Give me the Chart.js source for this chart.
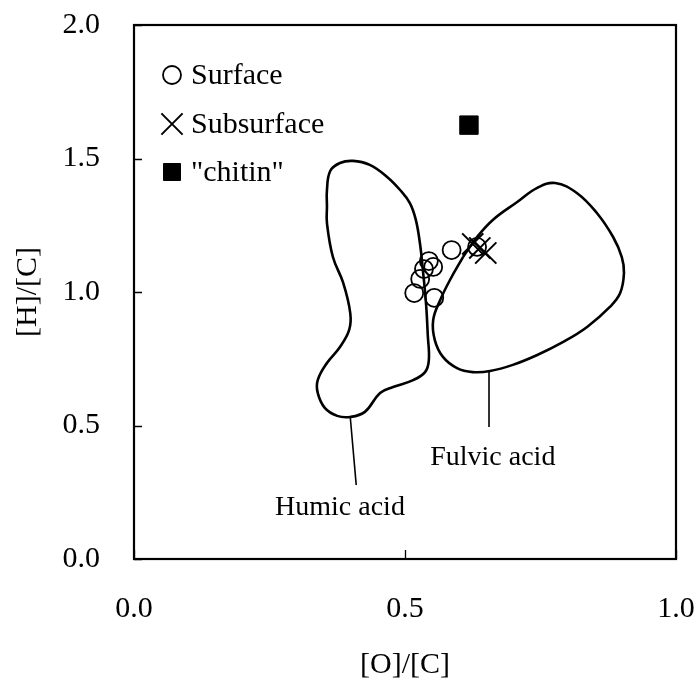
<!DOCTYPE html>
<html>
<head>
<meta charset="utf-8">
<script src="https://cdn.jsdelivr.net/npm/chart.js@4/dist/chart.umd.min.js"></script>
<style>
  html, body { margin: 0; padding: 0; background: #fff; }
  #wrap { width: 696px; height: 686px; }
</style>
</head>
<body>
<div id="wrap"><canvas id="c" width="696" height="686"></canvas></div>
<script>
// Atomic ratios of the samples
const surfaceOC = [0.586, 0.633, 0.544, 0.552, 0.535, 0.528, 0.517, 0.554];
const surfaceHC = [1.157, 1.169, 1.116, 1.094, 1.086, 1.049, 0.996, 0.978];
const subsurfaceOC = [0.625, 0.638, 0.649];
const subsurfaceHC = [1.180, 1.165, 1.146];
const chitinOC = [0.618];
const chitinHC = [1.625];

// Outline of the humic acid field (closed loop)
const humicOC = [0.356, 0.356, 0.362, 0.380, 0.404, 0.435, 0.467, 0.491, 0.509, 0.520, 0.528, 0.533,
  0.539, 0.542, 0.544, 0.537, 0.515, 0.478, 0.454, 0.426, 0.399, 0.375, 0.352, 0.339, 0.339,
  0.356, 0.380, 0.397, 0.399, 0.386, 0.367, 0.356, 0.356];
const humicHC = [1.320, 1.382, 1.453, 1.483, 1.491, 1.476, 1.431, 1.382, 1.333, 1.270, 1.176, 1.082,
  0.951, 0.839, 0.745, 0.700, 0.670, 0.644, 0.622, 0.551, 0.532, 0.536, 0.566, 0.622, 0.670,
  0.734, 0.794, 0.858, 0.921, 1.034, 1.131, 1.258, 1.320];

// Outline of the fulvic acid field (closed loop)
const fulvicOC = [0.607, 0.633, 0.662, 0.707, 0.744, 0.777, 0.817, 0.854, 0.884, 0.900, 0.904, 0.897,
  0.878, 0.836, 0.792, 0.744, 0.699, 0.657, 0.625, 0.596, 0.570, 0.555, 0.552, 0.565, 0.583, 0.607];
const fulvicHC = [1.131, 1.206, 1.270, 1.337, 1.390, 1.408, 1.371, 1.296, 1.206, 1.131, 1.071, 0.996,
  0.944, 0.869, 0.813, 0.764, 0.727, 0.704, 0.700, 0.715, 0.757, 0.820, 0.895, 0.970, 1.045, 1.131];

// Leader lines and their captions
const humicLeaderOC = [0.399, 0.410];
const humicLeaderHC = [0.532, 0.277];
const fulvicLeaderOC = [0.655, 0.655];
const fulvicLeaderHC = [0.700, 0.494];
const fieldNames = ['Humic acid', 'Fulvic acid'];
const fieldNameOC = [0.380, 0.662];
const fieldNameHC = [0.191, 0.378];

// Axis ticks
const xTicks = [0.0, 0.5, 1.0];
const yTicks = [0.0, 0.5, 1.0, 1.5, 2.0];
const seriesNames = ['Surface', 'Subsurface', '"chitin"'];

const FONT = 'Liberation Serif, Times New Roman, serif';
const FS = 30;
const FS_FIELD = 28;

const pts = (xs, ys) => xs.map((x, i) => ({ x: x, y: ys[i] }));

const outline = (xs, ys) => ({
  data: pts(xs, ys), showLine: true, tension: 0.4, pointRadius: 0,
  borderColor: '#000', borderWidth: 2.6, fill: false, order: 5
});
const leader = (xs, ys) => ({
  data: pts(xs, ys), showLine: true, tension: 0, pointRadius: 0,
  borderColor: '#000', borderWidth: 1.6, fill: false, order: 5
});

const surfaceStyle = { pointStyle: 'circle', pointRadius: 9, borderColor: '#000', backgroundColor: 'rgba(0,0,0,0)', borderWidth: 1.8 };
const subsurfaceStyle = { pointStyle: 'crossRot', pointRadius: 15, borderColor: '#000', backgroundColor: '#000', borderWidth: 2 };
const chitinStyle = { pointStyle: 'rect', pointRadius: 13, borderColor: '#000', backgroundColor: '#000', borderWidth: 1 };

const frameAndTicks = {
  id: 'frameAndTicks',
  afterDraw(chart) {
    const { ctx, chartArea: a, scales } = chart;
    ctx.save();
    ctx.strokeStyle = '#000';
    ctx.lineWidth = 1.3;
    ctx.beginPath();
    xTicks.forEach(v => {
      const px = Math.round(scales.x.getPixelForValue(v)) + 0.5;
      ctx.moveTo(px, a.bottom); ctx.lineTo(px, a.bottom - 9);
    });
    yTicks.forEach(v => {
      const py = Math.round(scales.y.getPixelForValue(v)) + 0.5;
      ctx.moveTo(a.left, py); ctx.lineTo(a.left + 8, py);
    });
    ctx.stroke();
    ctx.lineWidth = 2.2;
    ctx.strokeRect(a.left, a.top, a.right - a.left, a.bottom - a.top);
    ctx.restore();
  }
};

const fieldLabels = {
  id: 'fieldLabels',
  afterDatasetsDraw(chart) {
    const { ctx, scales } = chart;
    ctx.save();
    ctx.fillStyle = '#000';
    ctx.font = FS_FIELD + 'px ' + FONT;
    ctx.textAlign = 'center';
    ctx.textBaseline = 'middle';
    fieldNames.forEach((t, i) => {
      ctx.fillText(t, scales.x.getPixelForValue(fieldNameOC[i]), scales.y.getPixelForValue(fieldNameHC[i]));
    });
    ctx.restore();
  }
};

const insetLegend = {
  id: 'insetLegend',
  afterDraw(chart) {
    const { ctx, chartArea: a } = chart;
    const styles = [surfaceStyle, subsurfaceStyle, chitinStyle];
    const sizes = [9, 15, 12];
    const rows = [75, 124, 172];
    const mx = a.left + 38;
    ctx.save();
    styles.forEach((s, i) => {
      ctx.strokeStyle = s.borderColor;
      ctx.fillStyle = s.backgroundColor;
      ctx.lineWidth = s.borderWidth;
      Chart.helpers.drawPoint(ctx, { pointStyle: s.pointStyle, radius: sizes[i], rotation: 0, borderWidth: s.borderWidth }, mx, rows[i]);
    });
    ctx.fillStyle = '#000';
    ctx.font = FS + 'px ' + FONT;
    ctx.textAlign = 'left';
    ctx.textBaseline = 'middle';
    seriesNames.forEach((t, i) => ctx.fillText(t, mx + 19, rows[i] + 1));
    ctx.restore();
  }
};

new Chart(document.getElementById('c'), {
  type: 'scatter',
  data: {
    datasets: [
      Object.assign({ label: seriesNames[0], data: pts(surfaceOC, surfaceHC), order: 1 }, surfaceStyle),
      Object.assign({ label: seriesNames[1], data: pts(subsurfaceOC, subsurfaceHC), order: 1 }, subsurfaceStyle),
      Object.assign({ label: seriesNames[2], data: pts(chitinOC, chitinHC), order: 1 }, chitinStyle),
      Object.assign({ label: 'humic' }, outline(humicOC, humicHC)),
      Object.assign({ label: 'fulvic' }, outline(fulvicOC, fulvicHC)),
      Object.assign({ label: 'humic leader' }, leader(humicLeaderOC, humicLeaderHC)),
      Object.assign({ label: 'fulvic leader' }, leader(fulvicLeaderOC, fulvicLeaderHC))
    ]
  },
  options: {
    responsive: false,
    animation: false,
    devicePixelRatio: 1,
    layout: { padding: { top: 25, right: 20, left: 0, bottom: 0 } },
    plugins: { legend: { display: false }, tooltip: { enabled: false } },
    scales: {
      x: {
        type: 'linear', min: 0, max: 1,
        afterBuildTicks: s => { s.ticks = xTicks.map(v => ({ value: v })); },
        afterFit: s => { s.height = 127; s.paddingLeft = 0; s.paddingRight = 0; },
        grid: { display: false, drawTicks: false },
        border: { display: false },
        ticks: { color: '#000', padding: 32, font: { family: FONT, size: FS }, callback: v => v.toFixed(1), maxRotation: 0 },
        title: { display: true, text: '[O]/[C]', color: '#000', font: { family: FONT, size: FS }, padding: { top: 3, bottom: 3 } }
      },
      y: {
        type: 'linear', min: 0, max: 2,
        afterBuildTicks: s => { s.ticks = yTicks.map(v => ({ value: v })); },
        afterFit: s => { s.width = 134; s.paddingTop = 0; s.paddingBottom = 0; },
        grid: { display: false, drawTicks: false },
        border: { display: false },
        ticks: { color: '#000', padding: 34, font: { family: FONT, size: FS }, callback: v => v.toFixed(1) },
        title: { display: true, text: '[H]/[C]', color: '#000', font: { family: FONT, size: FS }, padding: { top: 10, bottom: 10 } }
      }
    }
  },
  plugins: [frameAndTicks, fieldLabels, insetLegend]
});
</script>
</body>
</html>
